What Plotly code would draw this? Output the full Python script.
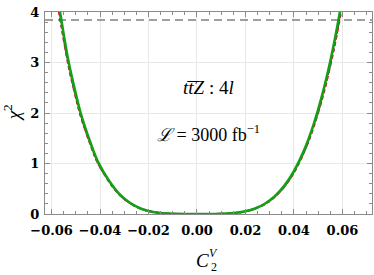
import plotly.graph_objects as go

# C_2^V values (x) and chi^2 readings for the three curves
c2v = [-0.0575, -0.056, -0.053, -0.050, -0.048, -0.044, -0.041, -0.036, -0.032, -0.028,
       -0.024, -0.020, -0.016, -0.012, -0.008, -0.004, 0.0, 0.004, 0.008, 0.012,
       0.016, 0.020, 0.024, 0.028, 0.032, 0.036, 0.040, 0.044, 0.048, 0.052,
       0.055, 0.057, 0.059, 0.0605]
chi2_green = [4.30, 3.85, 3.02, 2.38, 2.00, 1.42, 1.05, 0.64, 0.395, 0.232,
              0.125, 0.060, 0.025, 0.0079, 0.0016, 0.0001, 0.0, 0.0001, 0.0014, 0.0069,
              0.0217, 0.053, 0.110, 0.203, 0.347, 0.556, 0.847, 1.240, 1.756, 2.418,
              3.026, 3.491, 4.007, 4.431]
chi2_red = [4.16, 3.73, 2.93, 2.31, 1.94, 1.38, 1.02, 0.62, 0.383, 0.225,
            0.121, 0.058, 0.024, 0.0077, 0.0016, 0.0001, 0.0, 0.0001, 0.0013, 0.0067,
            0.0210, 0.051, 0.107, 0.197, 0.337, 0.539, 0.822, 1.203, 1.703, 2.345,
            2.935, 3.386, 3.887, 4.298]
chi2_blue = [4.21, 3.77, 2.96, 2.33, 1.96, 1.39, 1.03, 0.627, 0.387, 0.227,
             0.1225, 0.059, 0.0245, 0.0078, 0.0016, 0.0001, 0.0, 0.0001, 0.0013, 0.0068,
             0.0213, 0.052, 0.108, 0.199, 0.340, 0.545, 0.830, 1.215, 1.721, 2.370,
             2.965, 3.421, 3.927, 4.342]
chi2_95 = 3.84

x_ticks = [-0.06, -0.04, -0.02, 0.0, 0.02, 0.04, 0.06]
x_ticklabels = ["\u22120.06", "\u22120.04", "\u22120.02", "0.00", "0.02", "0.04", "0.06"]
y_ticks = [0, 1, 2, 3, 4]

x_range = [-0.0627, 0.0722]
y_range = [0, 4]

fig = go.Figure()

fig.add_trace(go.Scatter(x=x_range, y=[chi2_95, chi2_95], mode="lines",
                         line=dict(color="#808080", width=1.5, dash="8px,5px"),
                         hoverinfo="skip", showlegend=False))
fig.add_trace(go.Scatter(x=c2v, y=chi2_blue, mode="lines", line_shape="spline",
                         line=dict(color="#1a1a6e", width=2, dash="dot"), showlegend=False))
fig.add_trace(go.Scatter(x=c2v, y=chi2_red, mode="lines", line_shape="spline",
                         line=dict(color="#e8102a", width=2, dash="4px,3px"), showlegend=False))
fig.add_trace(go.Scatter(x=c2v, y=chi2_green, mode="lines", line_shape="spline",
                         line=dict(color="#14a014", width=2.6), showlegend=False))

tickfont = dict(family="DejaVu Serif", size=13, color="black", weight="bold")

fig.update_layout(
    width=374, height=275,
    margin=dict(l=45, r=2, t=12, b=61),
    paper_bgcolor="white", plot_bgcolor="white",
    xaxis=dict(range=x_range, tickvals=x_ticks, ticktext=x_ticklabels, automargin=False,
               showgrid=True, gridcolor="#e8e8e8", gridwidth=1, zeroline=False,
               showline=True, linecolor="#8a8a8a", linewidth=1, mirror="ticks",
               ticks="inside", ticklen=5, tickcolor="#8a8a8a", tickwidth=1,
               minor=dict(dtick=0.005, tick0=0, ticks="inside", ticklen=3,
                          tickcolor="#8a8a8a", showgrid=False),
               tickfont=tickfont, ticklabelstandoff=4),
    yaxis=dict(range=y_range, tickvals=y_ticks, automargin=False,
               showgrid=True, gridcolor="#e8e8e8", gridwidth=1, zeroline=False,
               showline=True, linecolor="#8a8a8a", linewidth=1, mirror="ticks",
               ticks="inside", ticklen=5, tickcolor="#8a8a8a", tickwidth=1,
               minor=dict(dtick=0.2, tick0=0, ticks="inside", ticklen=3,
                          tickcolor="#8a8a8a", showgrid=False),
               tickfont=tickfont, ticklabelstandoff=2),
)

serif = "Liberation Serif"
fig.add_annotation(text="<i>t</i><i>t\u0305</i><i>Z</i> : 4<i>l</i>", xref="paper", yref="paper",
                   x=0.5, y=0.625, showarrow=False,
                   font=dict(family=serif, size=19, color="black"), xanchor="center")
fig.add_annotation(text="<i>\u2112</i> = 3000 fb<sup>\u22121</sup>", xref="paper", yref="paper",
                   x=0.5, y=0.40, showarrow=False,
                   font=dict(family=serif, size=18, color="black"), xanchor="center")
# x-axis title C_2^V
fig.add_annotation(text="<i>C</i>", xref="paper", yref="paper", x=0.483, y=-0.228,
                   showarrow=False, font=dict(family=serif, size=19, color="black"),
                   xanchor="center", yanchor="middle")
fig.add_annotation(text="<i>V</i>", xref="paper", yref="paper", x=0.516, y=-0.195,
                   showarrow=False, font=dict(family=serif, size=12, color="black"),
                   xanchor="center", yanchor="middle")
fig.add_annotation(text="2", xref="paper", yref="paper", x=0.516, y=-0.262,
                   showarrow=False, font=dict(family=serif, size=12, color="black"),
                   xanchor="center", yanchor="middle")
# y-axis title chi^2
fig.add_annotation(text="<i>\u03c7</i><sup>2</sup>", xref="paper", yref="paper",
                   x=-0.1, y=0.5, xanchor="center", yanchor="middle", textangle=-90,
                   showarrow=False, font=dict(family=serif, size=19, color="black"))

fig.write_html("out.html", config={"displayModeBar": False},
               post_script="document.body.style.margin='0';document.body.style.overflow='hidden';")
